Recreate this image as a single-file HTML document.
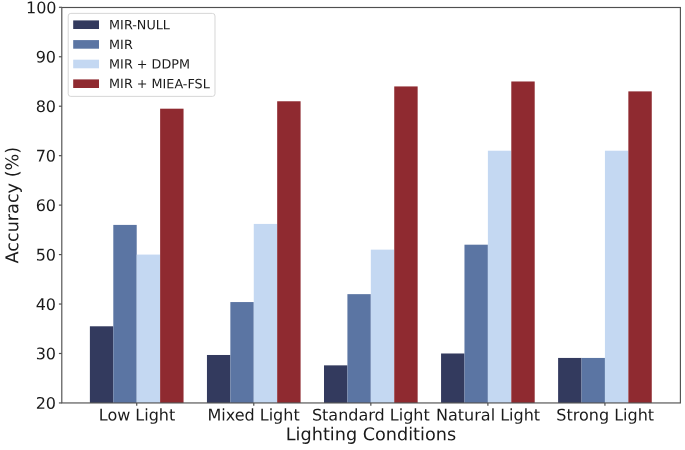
<!DOCTYPE html>
<html lang="en">
<head>
<meta charset="utf-8">
<title>Accuracy under Lighting Conditions</title>
<style>
html,body{margin:0;padding:0;background:#fff;}
body{width:685px;height:450px;overflow:hidden;}
svg{display:block;opacity:0.999;will-change:transform;}
text{font-family:"DejaVu Sans","Liberation Sans",sans-serif;fill:#1a1a1a;}
.tick{font-size:16px;}
.lab{font-size:17.65px;}
.leg{font-size:12.78px;}
</style>
</head>
<body>
<svg width="685" height="450" viewBox="0 0 685 450">
<rect x="0" y="0" width="685" height="450" fill="#ffffff"/>
<g fill="#333a5e">
<rect x="89.89" y="326.29" width="23.41" height="76.66"/>
<rect x="206.95" y="354.98" width="23.41" height="47.97"/>
<rect x="324.00" y="365.36" width="23.41" height="37.59"/>
<rect x="441.06" y="353.49" width="23.41" height="49.46"/>
<rect x="558.11" y="357.94" width="23.41" height="45.01"/>
</g>
<g fill="#5b75a3">
<rect x="113.30" y="224.91" width="23.41" height="178.04"/>
<rect x="230.36" y="302.06" width="23.41" height="100.89"/>
<rect x="347.41" y="294.15" width="23.41" height="108.80"/>
<rect x="464.47" y="244.69" width="23.41" height="158.26"/>
<rect x="581.52" y="357.94" width="23.41" height="45.01"/>
</g>
<g fill="#c4d8f2">
<rect x="136.72" y="254.58" width="23.41" height="148.37"/>
<rect x="253.77" y="223.92" width="23.41" height="179.03"/>
<rect x="370.83" y="249.64" width="23.41" height="153.31"/>
<rect x="487.88" y="150.72" width="23.41" height="252.23"/>
<rect x="604.93" y="150.72" width="23.41" height="252.23"/>
</g>
<g fill="#8f2a30">
<rect x="160.13" y="108.69" width="23.41" height="294.26"/>
<rect x="277.18" y="101.27" width="23.41" height="301.68"/>
<rect x="394.24" y="86.43" width="23.41" height="316.52"/>
<rect x="511.29" y="81.48" width="23.41" height="321.47"/>
<rect x="628.35" y="91.38" width="23.41" height="311.57"/>
</g>
<rect x="61.80" y="7.50" width="618.60" height="395.45" fill="none" stroke="#505050" stroke-width="1.15"/>
<g stroke="#505050" stroke-width="1.2">
<line x1="58.90" y1="402.95" x2="61.80" y2="402.95"/>
<line x1="58.90" y1="353.49" x2="61.80" y2="353.49"/>
<line x1="58.90" y1="304.04" x2="61.80" y2="304.04"/>
<line x1="58.90" y1="254.58" x2="61.80" y2="254.58"/>
<line x1="58.90" y1="205.12" x2="61.80" y2="205.12"/>
<line x1="58.90" y1="155.67" x2="61.80" y2="155.67"/>
<line x1="58.90" y1="106.21" x2="61.80" y2="106.21"/>
<line x1="58.90" y1="56.76" x2="61.80" y2="56.76"/>
<line x1="58.90" y1="7.30" x2="61.80" y2="7.30"/>
<line x1="136.72" y1="402.95" x2="136.72" y2="405.85"/>
<line x1="253.77" y1="402.95" x2="253.77" y2="405.85"/>
<line x1="370.83" y1="402.95" x2="370.83" y2="405.85"/>
<line x1="487.88" y1="402.95" x2="487.88" y2="405.85"/>
<line x1="604.93" y1="402.95" x2="604.93" y2="405.85"/>
</g>
<g class="tick" text-anchor="end">
<text transform="translate(56.00 408.80) rotate(0.03)">20</text>
<text transform="translate(56.00 359.34) rotate(0.03)">30</text>
<text transform="translate(56.00 309.89) rotate(0.03)">40</text>
<text transform="translate(56.00 260.43) rotate(0.03)">50</text>
<text transform="translate(56.00 210.97) rotate(0.03)">60</text>
<text transform="translate(56.00 161.52) rotate(0.03)">70</text>
<text transform="translate(56.00 112.06) rotate(0.03)">80</text>
<text transform="translate(56.00 62.61) rotate(0.03)">90</text>
<text transform="translate(56.50 13.15) rotate(0.03)">100</text>
</g>
<g class="tick" text-anchor="middle">
<text transform="translate(137.02 420.55) rotate(0.03)">Low Light</text>
<text transform="translate(253.57 420.55) rotate(0.03)">Mixed Light</text>
<text transform="translate(370.83 420.55) rotate(0.03)">Standard Light</text>
<text transform="translate(488.08 420.55) rotate(0.03)">Natural Light</text>
<text transform="translate(605.23 420.55) rotate(0.03)">Strong Light</text>
</g>
<text class="lab" text-anchor="middle" transform="translate(370.93 440.25) rotate(0.03)">Lighting Conditions</text>
<text class="lab" text-anchor="middle" transform="translate(18.3 205.18) rotate(-89.97)">Accuracy (%)</text>
<rect x="68.2" y="13.4" width="146.8" height="83.0" rx="2.6" ry="2.6" fill="#ffffff" fill-opacity="0.8" stroke="#d2d2d2" stroke-opacity="0.9" stroke-width="1"/>
<rect x="73.2" y="20.40" width="25.8" height="8.6" fill="#333a5e"/>
<text class="leg" transform="translate(109.1 29.30) rotate(0.03)">MIR-NULL</text>
<rect x="73.2" y="40.10" width="25.8" height="8.6" fill="#5b75a3"/>
<text class="leg" transform="translate(109.1 48.90) rotate(0.03)">MIR</text>
<rect x="73.2" y="59.70" width="25.8" height="8.6" fill="#c4d8f2"/>
<text class="leg" transform="translate(109.1 68.50) rotate(0.03)">MIR + DDPM</text>
<rect x="73.2" y="79.40" width="25.8" height="8.6" fill="#8f2a30"/>
<text class="leg" transform="translate(109.1 88.10) rotate(0.03)">MIR + MIEA-FSL</text>
</svg>
</body>
</html>
